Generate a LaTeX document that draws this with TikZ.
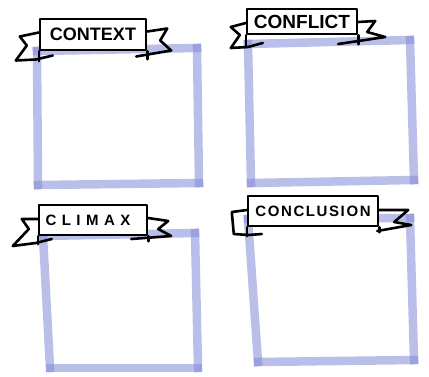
\documentclass[tikz,border=0pt]{standalone}
\usepackage{fontspec}
\setmainfont{Liberation Sans}
\usetikzlibrary{calc}
\definecolor{marker}{RGB}{130,138,215}
\newcommand\ltrsp{\kern5.5pt}
\newcommand\ltrspb{\kern1.6pt}
\tikzset{
  edge/.style={draw=marker, line width=8.5pt, line cap=rect, opacity=0.55},
  banner/.style={draw=black, fill=white, line width=2.4pt, line join=round,
     inner sep=0pt, font=\bfseries},
  tail/.style={draw=black, line width=2.6pt, line join=round, line cap=round},
}
\begin{document}
\begin{tikzpicture}[x=1pt,y=-1pt]
\useasboundingbox (0,0) rectangle (429,376);
% ---- blue boxes (each edge separately, marker look) ----
% box 1
\coordinate (a1) at (37,51);  \coordinate (a2) at (197,48);
\coordinate (a3) at (199,183); \coordinate (a4) at (38,185);
\draw[edge] (a1) -- (a2); \draw[edge] (a2) -- (a3);
\draw[edge] (a3) -- (a4); \draw[edge] (a4) -- (a1);
% box 2
\coordinate (c1) at (248,44);  \coordinate (c2) at (410,40);
\coordinate (c3) at (414,180); \coordinate (c4) at (251,183);
\draw[edge] (c1) -- (c2); \draw[edge] (c2) -- (c3);
\draw[edge] (c3) -- (c4); \draw[edge] (c4) -- (c1);
% box 3
\coordinate (d1) at (43,236);  \coordinate (d2) at (195,233);
\coordinate (d3) at (198,368); \coordinate (d4) at (50,368);
\draw[edge] (d1) -- (d2); \draw[edge] (d2) -- (d3);
\draw[edge] (d3) -- (d4); \draw[edge] (d4) -- (d1);
% box 4
\coordinate (e1) at (248,219);  \coordinate (e2) at (410,218);
\coordinate (e3) at (414,360); \coordinate (e4) at (258,362);
\draw[edge] (e1) -- (e2); \draw[edge] (e2) -- (e3);
\draw[edge] (e3) -- (e4); \draw[edge] (e4) -- (e1);

% ---- banners ----
% CONTEXT
\node[banner, minimum width=106pt, minimum height=31pt, font=\bfseries\fontsize{18}{18}\selectfont]
  (b1) at (93,34.5) {CONTEXT};
\draw[tail] ($(b1.west)+(0,-2)$) -- ++(-19,4) -- ++(7,9) -- ++(-11,15) -- ++(20,-1) -- ++(17,-4);
\draw[tail] (b1.south west) -- ++(0,10);
\draw[tail] ($(b1.east)+(0,-3)$) -- ++(20,-3) -- ++(-7,12) -- ++(11,10) -- ++(-35,6);
\draw[tail] (b1.south east) -- ++(0,8);

% CONFLICT
\node[banner, minimum width=110pt, minimum height=25pt, font=\bfseries\fontsize{19}{19}\selectfont]
  (b2) at (302,21.5) {CONFLICT};
\draw[tail] ($(b2.west)+(0,1.5)$) -- ++(-15,4) -- ++(9,8) -- ++(-9,13) -- ++(17,-1) -- ++(15,-4);
\draw[tail] (b2.south west) -- ++(0,12);
\draw[tail] ($(b2.east)+(0,0.5)$) -- ++(17,-1) -- ++(-8,11) -- ++(18,5) -- ++(-47,7);
\draw[tail] (b2.south east) -- ++(0,9);

% CLIMAX
\node[banner, minimum width=108pt, minimum height=30pt, font=\bfseries\fontsize{15}{15}\selectfont]
  (b3) at (93,220) {\hspace*{-10pt}C\ltrsp L\ltrsp I\ltrsp M\ltrsp A\ltrsp X};
\draw[tail] ($(b3.west)+(0,-1)$) -- ++(-16,0) -- ++(7,10) -- ++(-16,17) -- ++(23,-3) -- ++(16,-4);
\draw[tail] (b3.south west) -- ++(0,8);
\draw[tail] ($(b3.east)+(0,-2)$) -- ++(20,3) -- ++(-10,8) -- ++(13,7) -- ++(-40,3);
\draw[tail] (b3.south east) -- ++(0,5);

% CONCLUSION
\node[banner, minimum width=130pt, minimum height=30pt, font=\bfseries\fontsize{15}{15}\selectfont]
  (b4) at (313,211) {C\ltrspb O\ltrspb N\ltrspb C\ltrspb L\ltrspb U\ltrspb S\ltrspb I\ltrspb O\ltrspb N};
\draw[tail] ($(b4.west)+(0,-1)$) -- ++(-15,2) -- ++(2,22) -- ++(15,1) -- ++(13,-1);
\draw[tail] (b4.south west) -- ++(0,9);
\draw[tail] ($(b4.east)+(0,-1)$) -- ++(29,0) -- ++(-14,12) -- ++(17,3) -- ++(-34,6);
\draw[tail] (b4.south east) -- ++(0,5);
\end{tikzpicture}
\end{document}
